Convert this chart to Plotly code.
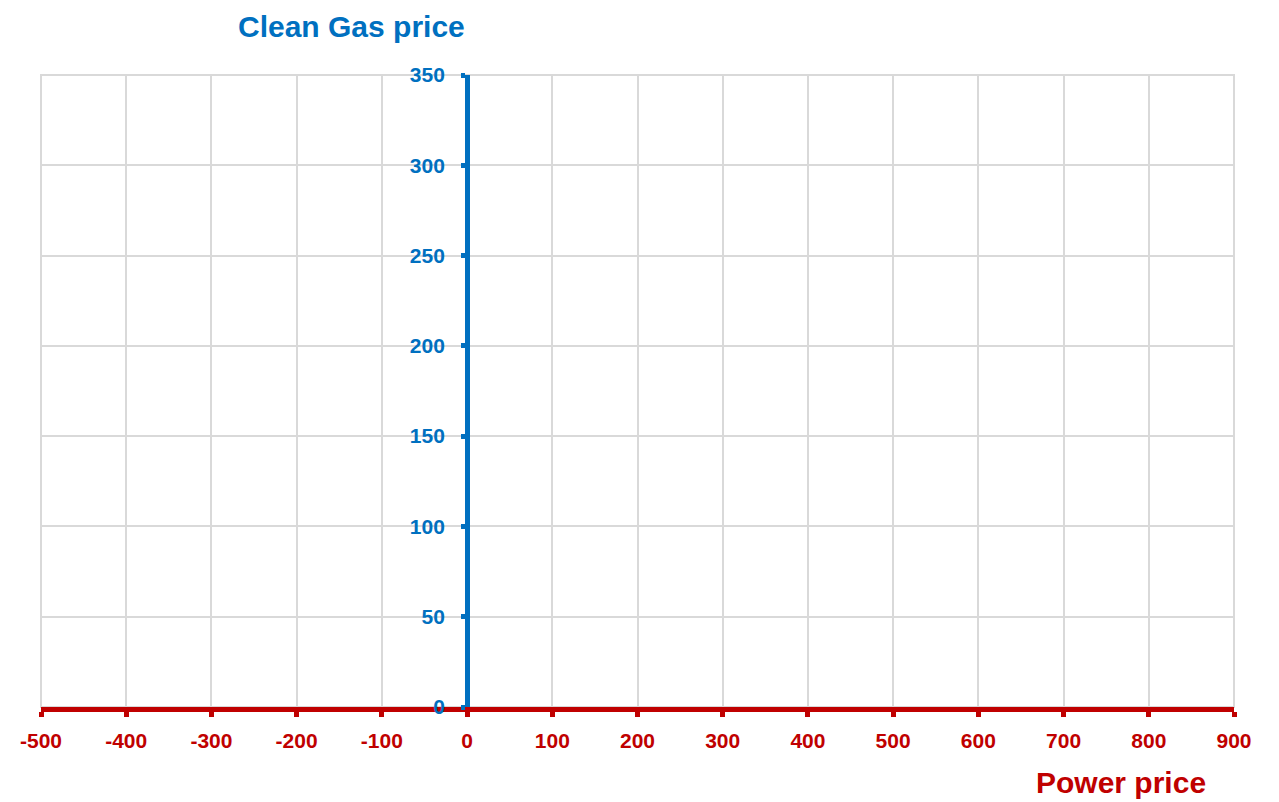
import plotly.graph_objects as go

# axis ranges and tick values (empty chart, only axes)
x_range = [-500, 900]
y_range = [0, 350]
x_ticks = [-500, -400, -300, -200, -100, 0, 100, 200, 300, 400, 500, 600, 700, 800, 900]
x_labels = ['-500', '-400', '-300', '-200', '-100', '0', '100', '200', '300',
            '400', '500', '600', '700', '800', '900']
y_ticks = [0, 50, 100, 150, 200, 250, 300, 350]
y_labels = ['0', '50', '100', '150', '200', '250', '300', '350']

BLUE = '#0070C0'
RED = '#C00000'
GRID = '#D9D9D9'
FONT = 'Liberation Sans, Arial, sans-serif'

fig = go.Figure()
fig.add_trace(go.Scatter(x=[], y=[], mode='markers', showlegend=False))

# y axis sits at x=0 inside the plot area
y_pos = (0 - x_range[0]) / (x_range[1] - x_range[0])

fig.update_layout(
    width=1271, height=794,
    margin=dict(l=31, r=45, t=67, b=95),
    paper_bgcolor='white', plot_bgcolor='white',
    font=dict(family=FONT),
    showlegend=False,
    xaxis=dict(
        range=x_range, tickmode='array', tickvals=x_ticks, ticktext=x_labels,
        showgrid=True, gridcolor=GRID, gridwidth=2, zeroline=False,
        showline=True, linecolor=RED, linewidth=5,
        ticks='outside', ticklen=5, tickwidth=5, tickcolor=RED,
        tickfont=dict(family=FONT, size=21, color=RED, weight='bold'),
        ticklabelstandoff=6,
    ),
    yaxis=dict(
        range=y_range, tickmode='array', tickvals=y_ticks, ticktext=y_labels,
        showgrid=True, gridcolor=GRID, gridwidth=2, zeroline=False,
        anchor='free', position=y_pos,
        showline=True, linecolor=BLUE, linewidth=5,
        ticks='outside', ticklen=4, tickwidth=5, tickcolor=BLUE,
        tickfont=dict(family=FONT, size=21, color=BLUE, weight='bold'),
        ticklabelstandoff=12,
    ),
    # gridlines on the outer edges of the plot area
    shapes=[dict(type='rect', xref='paper', yref='paper', x0=0, x1=1, y0=0, y1=1,
                 line=dict(color=GRID, width=2), layer='below')],
    annotations=[
        dict(text='Clean Gas price', xref='x', yref='paper', x=0, y=1.077,
             xanchor='right', yanchor='middle', showarrow=False,
             font=dict(family=FONT, size=30, color=BLUE, weight='bold')),
        dict(text='Power price', xref='x', yref='paper', x=870, y=-0.12,
             xanchor='right', yanchor='middle', showarrow=False,
             font=dict(family=FONT, size=30, color=RED, weight='bold')),
    ],
)

fig.write_html("out.html")
